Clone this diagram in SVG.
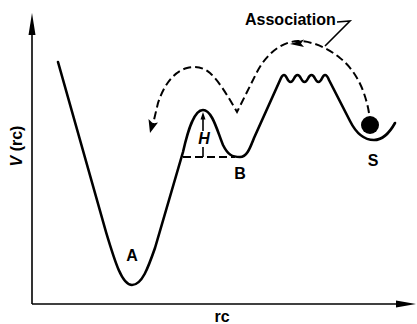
<svg xmlns="http://www.w3.org/2000/svg" width="417" height="324" viewBox="0 0 417 324">
<style>
.ax{fill:none;stroke:#000;stroke-width:1.6}
.crv{fill:none;stroke:#000;stroke-width:2.6;stroke-linejoin:round;stroke-linecap:round}
.dash{fill:none;stroke:#000;stroke-width:2;stroke-dasharray:8 4}
.thin{fill:none;stroke:#000;stroke-width:1.6}
.lbl{font-family:"Liberation Sans",Arial,sans-serif;font-weight:bold;font-size:16px;fill:#000}
.hd{fill:#000;stroke:none}
</style>
<rect width="417" height="324" fill="#fff"/>
<g id="axes">
<line class="ax" x1="32" y1="304" x2="32" y2="30"/>
<polygon class="hd" points="32,13 28.5,35 35.5,35"/>
<line class="ax" x1="32" y1="304" x2="400" y2="304"/>
<polygon class="hd" points="416,304 396,300.5 396,307.5"/>
<text class="lbl" transform="translate(22,146) rotate(-90)" text-anchor="middle"><tspan font-style="italic">V</tspan> (rc)</text>
<text class="lbl" x="222" y="322" text-anchor="middle">rc</text>
</g>
<g id="potential">
<path class="crv" d="M58,62 L106,232 C115,262 122,285 132,285 C142,285 148,268 155,248 L183,152 C188,130 194,110 203,110 C212,110 217,130 223,145 C228,155 232,157 240,157 C247,157 250,148 254,138 L281,78 Q282.5,75 284,75 C287,75 287,82 290.5,82 C294,82 294,75 297.5,75 C301,75 301,82 304.5,82 C308,82 308,75 311.5,75 C315,75 315,82 318.5,82 C322,82 322,75 325,75 Q327,75 329,80 L350,121 C356,133 364,140 374,140 C383,140 390,132 395,123"/>
</g>
<g id="A"><text class="lbl" x="132" y="261" text-anchor="middle">A</text></g>
<g id="B"><text class="lbl" x="240" y="179" text-anchor="middle">B</text></g>
<g id="S">
<circle cx="370" cy="125" r="9" fill="#000"/>
<text class="lbl" x="373" y="166" text-anchor="middle">S</text>
</g>
<g id="H">
<line class="dash" x1="183" y1="157" x2="235" y2="157" stroke-dasharray="6 3"/>
<line class="thin" x1="203" y1="118" x2="203" y2="131"/>
<polygon class="hd" points="203,112 200.5,119.5 205.5,119.5"/>
<line class="thin" x1="203" y1="147" x2="203" y2="157"/>
<text class="lbl" x="204" y="144" text-anchor="middle" font-style="italic" font-size="15">H</text>
</g>
<g id="association">
<text class="lbl" x="245" y="25">Association</text>
<polyline class="thin" points="337,22 350,21 325,46"/>
</g>
<g id="connectors">
<path class="dash" d="M369,113 C366,95 358,72 340,58 C328,48 312,41 298,41 C280,42 266,55 257,72 L237,112 C230,100 220,82 210,73 C203,67 195,66 187,68 C172,72 163,88 158,103 L153,124"/>
<polygon class="hd" points="290,44 304,39.5 301,43.5 304,47"/>
<polygon class="hd" points="150,133 148.5,119 153,123.5 158,122.5"/>
</g>
</svg>
